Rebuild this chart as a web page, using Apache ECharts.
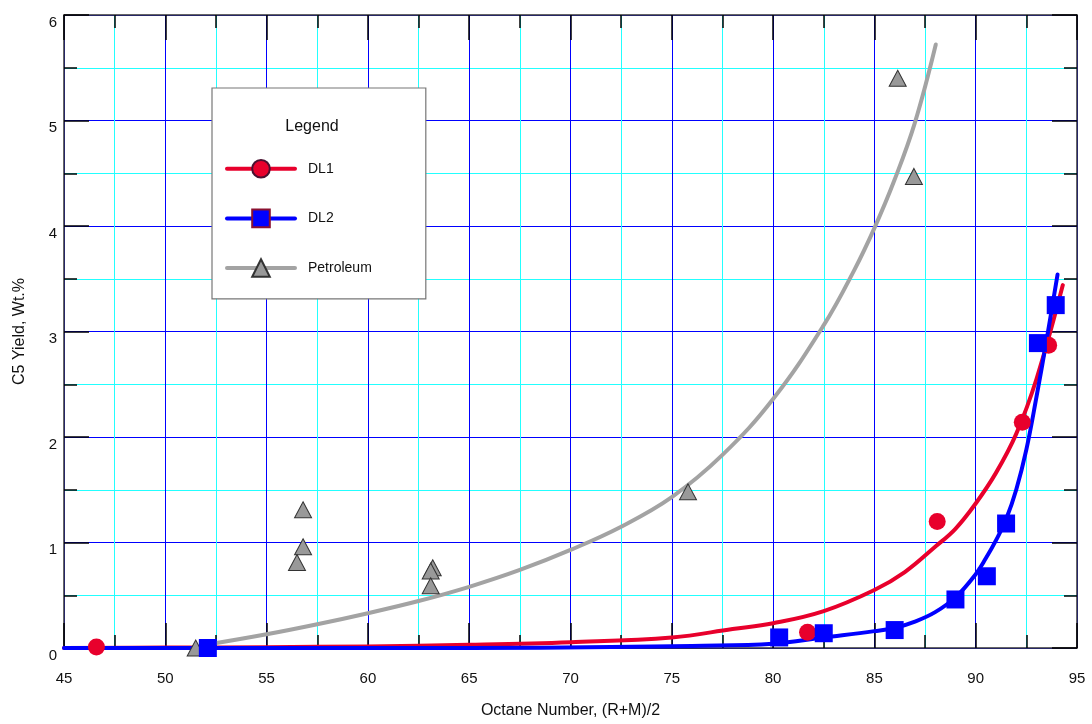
<!DOCTYPE html>
<html>
<head>
<meta charset="utf-8">
<title>C5 Yield vs Octane Number</title>
<script src="https://cdn.jsdelivr.net/npm/echarts@6/dist/echarts.min.js"></script>
<style>
  html, body { margin: 0; padding: 0; background: #ffffff; }
  #chart { width: 1092px; height: 724px; }
</style>
</head>
<body>
<div id="chart"></div>
<script>
// Measured points
const dl1X = [46.6, 81.7, 88.1, 92.3, 93.6];
const dl1Y = [0.01, 0.15, 1.20, 2.14, 2.87];

const dl2X = [52.1, 80.3, 82.5, 86.0, 89.0, 90.55, 91.5, 93.07, 93.95];
const dl2Y = [0.00, 0.10, 0.14, 0.17, 0.46, 0.68, 1.18, 2.89, 3.25];

const petroX = [51.5, 56.8, 56.8, 56.5, 63.2, 63.1, 63.1, 75.8, 86.15, 86.95];
const petroY = [0.00, 1.31, 0.96, 0.81, 0.76, 0.73, 0.59, 1.48, 5.40, 4.47];

// Fitted trend curves
const dl1CurveX = [45, 50, 55, 60, 65, 70, 75, 78, 80, 82.5, 85, 86.5, 88, 89, 90, 91, 92, 93, 94.3];
const dl1CurveY = [0.00, 0.004, 0.008, 0.015, 0.03, 0.055, 0.10, 0.18, 0.235, 0.35, 0.55, 0.72, 0.96, 1.13, 1.37, 1.66, 2.03, 2.55, 3.44];

const dl2CurveX = [45, 55, 65, 72, 76, 80, 82.5, 85, 86, 87, 88, 89, 90, 90.5, 91, 91.5, 92, 92.5, 93, 93.5, 94.04];
const dl2CurveY = [0.00, 0.00, 0.00, 0.01, 0.02, 0.04, 0.10, 0.16, 0.19, 0.25, 0.34, 0.48, 0.70, 0.85, 1.02, 1.22, 1.50, 1.88, 2.38, 2.92, 3.54];

const petroCurveX = [52, 55, 57.5, 60, 62.5, 65, 67.5, 70, 72.5, 75, 77.5, 80, 82.5, 84, 85, 86, 87, 88.03];
const petroCurveY = [0.03, 0.13, 0.225, 0.33, 0.445, 0.58, 0.74, 0.93, 1.15, 1.43, 1.83, 2.36, 3.06, 3.58, 3.98, 4.44, 4.98, 5.72];

// Axis ranges
const xMin = 45, xMax = 95, xStep = 5;
const yMin = 0, yMax = 6, yStep = 1;

const pairs = (xs, ys) => xs.map((x, i) => [x, ys[i]]);

const FONT = "'Liberation Sans', Arial, sans-serif";
const RED = '#e8002c';
const BLUE = '#0000ff';
const GREY_LINE = '#a3a3a3';
const GREY_FILL = '#999999';

const chart = echarts.init(document.getElementById('chart'), null, { renderer: 'canvas' });

// Axes carrying the labels and the grid lines (drawn underneath)
const gridAxisX = {
  type: 'value', min: xMin, max: xMax, interval: xStep, position: 'bottom', z: 0,
  axisLine: { show: false, onZero: false },
  axisTick: { show: false },
  axisLabel: { show: true, margin: 23, fontSize: 15, color: '#111', fontFamily: FONT },
  splitLine: { show: true, lineStyle: { color: BLUE, width: 1 } },
  minorTick: { show: false, splitNumber: 2 },
  minorSplitLine: { show: true, lineStyle: { color: '#22ffff', width: 1 } },
  name: 'Octane Number, (R+M)/2', nameLocation: 'middle', nameGap: 55,
  nameTextStyle: { fontSize: 16, color: '#111', fontFamily: FONT }
};
const gridAxisY = {
  type: 'value', min: yMin, max: yMax, interval: yStep, position: 'left', z: 0,
  axisLine: { show: false, onZero: false },
  axisTick: { show: false },
  axisLabel: { show: true, margin: 7, fontSize: 15, color: '#111', fontFamily: FONT, verticalAlign: 'top' },
  splitLine: { show: true, lineStyle: { color: BLUE, width: 1 } },
  minorTick: { show: false, splitNumber: 2 },
  minorSplitLine: { show: true, lineStyle: { color: '#22ffff', width: 1 } },
  name: 'C5 Yield, Wt.%', nameLocation: 'middle', nameGap: 36,
  nameTextStyle: { fontSize: 16, color: '#111', fontFamily: FONT }
};
// Frame axes: black inward ticks drawn above the grid on all four sides
const tickAxis = (pos, min, max, step) => ({
  type: 'value', min, max, interval: step, position: pos, z: 3,
  axisLine: { show: true, onZero: false, lineStyle: { color: '#333', width: 1.5 } },
  axisTick: { show: true, inside: true, length: 25, lineStyle: { color: '#000', width: 1.5 } },
  minorTick: { show: true, splitNumber: 2, length: 13, lineStyle: { color: '#000', width: 1.5 } },
  axisLabel: { show: false },
  splitLine: { show: false },
  minorSplitLine: { show: false }
});

const curve = (name, data, color, symbol, itemStyle) => ({
  name, type: 'line', data, smooth: 0.4,
  showSymbol: false, symbol, clip: false, z: 4,
  lineStyle: { color, width: 4, cap: 'round', join: 'round' },
  itemStyle,
  emphasis: { disabled: true }
});
const points = (name, data, symbol, size, itemStyle) => ({
  name, type: 'scatter', data, symbol, symbolSize: size, clip: false, z: 5,
  itemStyle: Object.assign({ opacity: 1 }, itemStyle),
  emphasis: { disabled: true }
});

chart.setOption({
  animation: false,
  backgroundColor: '#ffffff',
  textStyle: { fontFamily: FONT },
  title: {
    text: 'Legend', left: 312, top: 119, textAlign: 'center', padding: 0, z: 10,
    textStyle: { fontSize: 16, fontWeight: 'normal', color: '#111', fontFamily: FONT }
  },
  legend: {
    data: ['DL1', 'DL2', 'Petroleum'],
    orient: 'vertical', left: 212, top: 88,
    itemWidth: 68, itemHeight: 22, itemGap: 30,
    padding: [71, 54, 21, 13],
    backgroundColor: '#ffffff', borderColor: '#777777', borderWidth: 1.2, borderRadius: 0,
    selectedMode: false, z: 8,
    lineStyle: { width: 4, cap: 'round' },
    textStyle: { fontSize: 14, color: '#111', fontFamily: FONT, padding: [0, 0, 0, 8] }
  },
  grid: { left: 64, right: 15, top: 15, bottom: 76, containLabel: false },
  xAxis: [gridAxisX, tickAxis('bottom', xMin, xMax, xStep), tickAxis('top', xMin, xMax, xStep)],
  yAxis: [gridAxisY, tickAxis('left', yMin, yMax, yStep), tickAxis('right', yMin, yMax, yStep)],
  series: [
    curve('Petroleum', pairs(petroCurveX, petroCurveY), GREY_LINE, 'triangle',
      { color: GREY_FILL, borderColor: '#333', borderWidth: 1 }),
    points('Petroleum', pairs(petroX, petroY), 'triangle', [17, 16],
      { color: GREY_FILL, borderColor: '#333', borderWidth: 1 }),
    curve('DL1', pairs(dl1CurveX, dl1CurveY), RED, 'circle',
      { color: RED, borderColor: '#4a1030', borderWidth: 1 }),
    points('DL1', pairs(dl1X, dl1Y), 'circle', 17, { color: RED }),
    curve('DL2', pairs(dl2CurveX, dl2CurveY), BLUE, 'rect',
      { color: BLUE, borderColor: '#8a1030', borderWidth: 1 }),
    points('DL2', pairs(dl2X, dl2Y), 'rect', 18, { color: BLUE })
  ]
});
</script>
</body>
</html>
